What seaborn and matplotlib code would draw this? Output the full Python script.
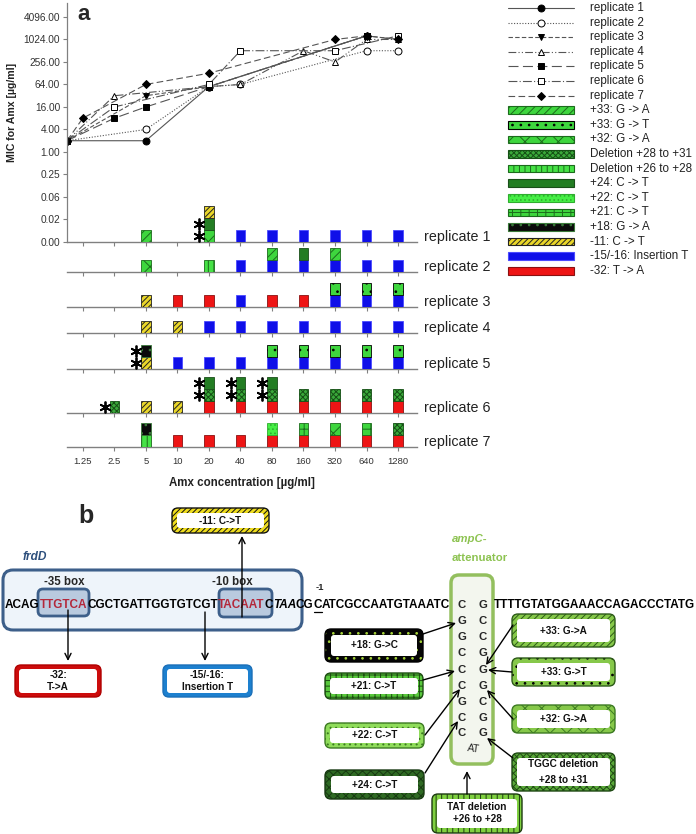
import matplotlib
matplotlib.use("Agg")
import matplotlib.pyplot as plt
from matplotlib.patches import FancyBboxPatch, Rectangle
import seaborn as sns

# ---------------- data ----------------
conc_labels = ["1.25", "2.5", "5", "10", "20", "40", "80", "160", "320", "640", "1280"]
mic_tick_exp = list(range(-8, 13, 2))

# MIC course per replicate: step reached -> MIC value
rep1_at = ["start", "5", "20", "640"]
rep1_mic = [2, 2, 56, 1280]
rep2_at = ["start", "5", "20", "40", "640", "1280"]
rep2_mic = [2, 4, 56, 64, 512, 512]
rep3_at = ["start", "5", "20", "640", "1280"]
rep3_mic = [2, 32, 56, 1280, 1024]
rep4_at = ["start", "2.5", "20", "40", "160", "320", "640", "1280"]
rep4_mic = [2, 32, 56, 64, 512, 256, 1024, 1024]
rep5_at = ["start", "2.5", "5", "20", "640"]
rep5_mic = [2, 8, 16, 56, 1280]
rep6_at = ["start", "2.5", "20", "40", "320", "1280"]
rep6_mic = [2, 16, 64, 512, 512, 1280]
rep7_at = ["start", "1.25", "5", "20", "320", "640", "1280"]
rep7_mic = [2, 8, 64, 128, 1024, 1280, 1024]

# mutations found per concentration step (bottom -> top of the stack)
rep1_bars = ["", "", "33GA", "", "32GA 24CT 11CT", "ins", "ins", "ins", "ins", "ins", "ins"]
rep2_bars = ["", "", "32GA", "", "d2628", "ins", "ins 33GA", "ins 24CT", "ins 33GA", "ins", "ins"]
rep3_bars = ["", "", "11CT", "32TA", "32TA", "ins", "32TA", "32TA", "ins 33GT", "ins 33GT", "ins 33GT"]
rep4_bars = ["", "", "11CT", "11CT", "ins", "ins", "ins", "ins", "ins", "ins", "ins"]
rep5_bars = ["", "", "11CT 18GA", "ins", "ins", "ins", "ins 33GT", "ins 33GT", "ins 33GT", "ins 33GT", "ins 33GT"]
rep6_bars = ["", "d2831", "11CT", "11CT", "32TA d2831 24CT", "32TA d2831 24CT", "32TA d2831 24CT",
             "32TA d2831", "32TA d2831", "32TA d2831", "32TA d2831"]
rep7_bars = ["", "", "d2628 18GA", "32TA", "32TA", "32TA", "32TA 22CT", "32TA 21CT", "32TA 32GA",
             "32TA 21CT", "32TA d2831"]

# (replicate, step index, segment) marked with an asterisk
stars = [(1, 4, 0), (1, 4, 1), (5, 2, 0), (5, 2, 1), (6, 1, 0),
         (6, 4, 1), (6, 4, 2), (6, 5, 1), (6, 5, 2), (6, 6, 1), (6, 6, 2)]

mic_at = [rep1_at, rep2_at, rep3_at, rep4_at, rep5_at, rep6_at, rep7_at]
mic_val = [rep1_mic, rep2_mic, rep3_mic, rep4_mic, rep5_mic, rep6_mic, rep7_mic]
bars = [rep1_bars, rep2_bars, rep3_bars, rep4_bars, rep5_bars, rep6_bars, rep7_bars]

# ---------------- styles ----------------
mut_style = {
    "33GA": ("+33: G -> A", "#3ed63e", "////", "#1c6b1c"),
    "33GT": ("+33: G -> T", "#3ed63e", "..", "#000000"),
    "32GA": ("+32: G -> A", "#3ed63e", "xx", "#1c6b1c"),
    "d2831": ("Deletion +28 to +31", "#3aa83a", "xxxxxx", "#154f15"),
    "d2628": ("Deletion +26 to +28", "#46e246", "|||", "#1c6b1c"),
    "24CT": ("+24: C -> T", "#237d23", "", "#1a4f1a"),
    "22CT": ("+22: C -> T", "#45ef45", "....", "#2fae2f"),
    "21CT": ("+21: C -> T", "#3ed63e", "++", "#1c6b1c"),
    "18GA": ("+18: G -> A", "#0a0a0a", "..", "#3a7a3a"),
    "11CT": ("-11: C -> T", "#e9d62a", "//////", "#222222"),
    "ins": ("-15/-16: Insertion T", "#0f0fe8", "", "#4a4aff"),
    "32TA": ("-32: T -> A", "#ee1515", "", "#8a1111"),
}
legend_order = ["33GA", "33GT", "32GA", "d2831", "d2628", "24CT", "22CT", "21CT", "18GA", "11CT", "ins", "32TA"]

line_style = [
    dict(linestyle="-", marker="o", markerfacecolor="black", markersize=5),
    dict(linestyle=(0, (1, 1.5)), marker="o", markerfacecolor="white", markersize=5),
    dict(linestyle=(0, (4, 2)), marker="v", markerfacecolor="black", markersize=5),
    dict(linestyle=(0, (7, 2, 1, 2, 1, 2)), marker="^", markerfacecolor="white", markersize=5),
    dict(linestyle=(0, (9, 4)), marker="s", markerfacecolor="black", markersize=4.5),
    dict(linestyle=(0, (8, 2, 1, 2)), marker="s", markerfacecolor="white", markersize=4.5),
    dict(linestyle=(0, (6, 3)), marker="D", markerfacecolor="black", markersize=4.5),
]

sns.set_theme(style="white")
plt.rcParams["font.family"] = ["Liberation Sans", "DejaVu Sans"]
plt.rcParams["hatch.linewidth"] = 0.7

W, H = 696, 834
fig = plt.figure(figsize=(W / 100, H / 100), dpi=100)


def px_rect(x0, y0, x1, y1):
    return [x0 / W, 1 - y1 / H, (x1 - x0) / W, (y1 - y0) / H]


XL = (-0.5, 10.6)
pos = {c: i for i, c in enumerate(conc_labels)}
pos["start"] = -0.5
GRAY = "#808080"

# ---------------- panel a: MIC lines ----------------
ax_mic = fig.add_axes(px_rect(67, 3, 417, 242))
ax_mic.patch.set_visible(False)
for i in range(7):
    xs = [pos[a] for a in mic_at[i]]
    sns.lineplot(x=xs, y=mic_val[i], ax=ax_mic, color="#555555", linewidth=0.8,
                 markeredgecolor="black", markeredgewidth=0.7,
                 estimator=None, sort=False, legend=False, **line_style[i])
ax_mic.set_yscale("log", base=2)
ax_mic.set_ylim(2.0 ** -8, 2.0 ** 13.24)
ax_mic.set_xlim(*XL)
ax_mic.set_yticks([2.0 ** e for e in mic_tick_exp])
ax_mic.set_yticklabels([f"{2.0 ** e:.2f}" for e in mic_tick_exp])
ax_mic.yaxis.set_minor_locator(matplotlib.ticker.NullLocator())
ax_mic.set_xticks([])
for s in ["top", "right", "bottom"]:
    ax_mic.spines[s].set_visible(False)
ax_mic.spines["left"].set_color(GRAY)
ax_mic.spines["left"].set_linewidth(0.9)
ax_mic.tick_params(axis="y", direction="out", length=3, width=0.8, color=GRAY,
                   labelsize=7.3, labelcolor="#333333", pad=2, left=True)
ax_mic.set_xlabel("")
ax_mic.set_ylabel("")

# ---------------- panel a: mutation rows ----------------
baselines = [242, 272, 307, 333, 369, 413, 447]
UNIT = 12
for r, base in enumerate(baselines):
    ax = fig.add_axes(px_rect(67, base - 40, 417, base))
    ax.patch.set_visible(False)
    ax.set_xlim(*XL)
    ax.set_ylim(0, 40 / UNIT)
    for idx, cell in enumerate(bars[r]):
        for k, m in enumerate(cell.split()):
            _, fc, hatch, ec = mut_style[m]
            ax.bar(idx, 1, bottom=k, width=0.3, color=fc, hatch=hatch, edgecolor=ec,
                   linewidth=0.6, zorder=3)
    sx = [idx - 0.31 for (rr, idx, seg) in stars if rr == r + 1]
    sy = [seg + 0.5 for (rr, idx, seg) in stars if rr == r + 1]
    if sx:
        ax.plot(sx, sy, linestyle="none", marker=(6, 2, 0), markersize=8.5,
                markeredgewidth=1.3, color="black", zorder=4)
    for s in ["top", "right", "left"]:
        ax.spines[s].set_visible(False)
    ax.spines["bottom"].set_color(GRAY)
    ax.spines["bottom"].set_linewidth(1)
    ax.set_yticks([])
    ax.set_xticks(range(len(conc_labels)))
    ax.tick_params(axis="x", direction="out", length=3, width=0.8, color=GRAY, bottom=True,
                   labelsize=6.8, labelcolor="#333333", pad=4)
    if r == len(baselines) - 1:
        ax.set_xticklabels(conc_labels)
        ax.set_xlabel("Amx concentration [\u00b5g/ml]", fontsize=8.3, fontweight="bold",
                      color="#222222", labelpad=8)
    else:
        ax.set_xticklabels([])
    fig.text(424 / W, 1 - (base - 5) / H, f"replicate {r + 1}", fontsize=10.3,
             va="center", ha="left", color="#222222")

# ---------------- legend ----------------
ax_leg = fig.add_axes(px_rect(500, 0, 696, 290))
ax_leg.set_xlim(500, 696)
ax_leg.set_ylim(290, 0)
ax_leg.axis("off")
row_y = [8 + 14.6 * i for i in range(19)]
for i in range(7):
    y = row_y[i]
    st = dict(line_style[i])
    mk = st.pop("marker")
    mfc = st.pop("markerfacecolor")
    ms = st.pop("markersize")
    ax_leg.plot([508, 574], [y, y], color="#555555", linewidth=0.8, **st)
    ax_leg.plot([541], [y], marker=mk, markerfacecolor=mfc, markeredgecolor="black",
                markersize=ms, markeredgewidth=0.7, linestyle="none")
    ax_leg.text(590, y, f"replicate {i + 1}", fontsize=8.4, va="center", color="#222222")
for j, m in enumerate(legend_order):
    y = row_y[7 + j]
    lab, fc, hatch, ec = mut_style[m]
    ax_leg.add_patch(Rectangle((508, y - 3.8), 66, 7.6, facecolor=fc, hatch=hatch,
                               edgecolor=ec, linewidth=0.8))
    ax_leg.text(590, y, lab, fontsize=8.4, va="center", color="#222222")

# ---------------- panel b (pixel overlay) ----------------
ax_b = fig.add_axes([0, 0, 1, 1])
ax_b.set_xlim(0, W)
ax_b.set_ylim(H, 0)
ax_b.axis("off")
renderer = fig.canvas.get_renderer()

ax_b.text(84, 20, "a", fontsize=16, fontweight="bold", ha="center", va="baseline")
ax_b.text(86, 516, "b", fontsize=18, fontweight="bold", ha="center", va="center")
ax_b.text(12, 112, "MIC for Amx [\u00b5g/ml]", rotation=90, fontsize=7.6, fontweight="bold",
          ha="center", va="center", color="#222222")


def rbox(x0, y0, x1, y1, r, **kw):
    p = FancyBboxPatch((x0, y0), x1 - x0, y1 - y0,
                       boxstyle=f"round,pad=0,rounding_size={r}", **kw)
    ax_b.add_patch(p)
    return p


def mut_box(x0, y0, x1, y1, face, hatch, hcol, lines, edge=None, bw=5, gap=12, fs=7.2):
    rbox(x0, y0, x1, y1, 6, facecolor=face, edgecolor=hcol, hatch=hatch, linewidth=0)
    rbox(x0, y0, x1, y1, 6, facecolor="none", edgecolor=edge or hcol, linewidth=1)
    rbox(x0 + bw, y0 + bw, x1 - bw, y1 - bw, 3, facecolor="white", edgecolor="none")
    cx, cy = (x0 + x1) / 2, (y0 + y1) / 2
    n = len(lines)
    for k, s in enumerate(lines):
        ax_b.text(cx, cy + (k - (n - 1) / 2) * gap, s, fontsize=fs, fontweight="bold",
                  ha="center", va="center", color="#111111")


def arrow(x0, y0, x1, y1):
    ax_b.annotate("", xy=(x1, y1), xytext=(x0, y0),
                  arrowprops=dict(arrowstyle="->", color="black", lw=1.0, mutation_scale=11,
                                  shrinkA=0, shrinkB=0), zorder=6)


def seq_text(x, y, parts, target, fs0=8):
    full = "".join(p[0] for p in parts)
    tmp = ax_b.text(0, 0, full, fontsize=fs0, fontweight="bold")
    w = tmp.get_window_extent(renderer).width
    tmp.remove()
    fs = fs0 * target / w
    spots = []
    for s, color, italic, under in parts:
        t = ax_b.text(x, y, s, fontsize=fs, fontweight="bold", color=color,
                      style="italic" if italic else "normal", ha="left", va="center")
        bw = t.get_window_extent(renderer).width
        if under:
            ax_b.plot([x + 0.5, x + bw - 0.5], [y + 6.5, y + 6.5], color="black", lw=0.9)
        spots.append((x, x + bw))
        x += bw
    return spots


# frdD promoter box
ax_b.text(23, 557, "frdD", fontsize=8.6, fontweight="bold", style="italic", color="#2d4f7c",
          ha="left", va="center")
rbox(3, 570, 302, 630, 10, facecolor="#eef4fa", edgecolor="#3d5f8a", linewidth=2.2)
rbox(38, 589, 89, 616, 5, facecolor="#b9cadf", edgecolor="#3d5f8a", linewidth=2)
rbox(219, 589, 272, 617, 5, facecolor="#b9cadf", edgecolor="#3d5f8a", linewidth=2)
ax_b.text(64, 582, "-35 box", fontsize=8.3, fontweight="bold", ha="center", va="center")
ax_b.text(232, 582, "-10 box", fontsize=8.3, fontweight="bold", ha="center", va="center")

RED = "#b3283b"
left_parts = [("ACAG", "black", False, False), ("TTGTCA", RED, False, False),
              ("CGCTGATTGGTGTCGT", "black", False, False), ("TACAAT", RED, False, False),
              ("C", "black", False, False), ("TAA", "black", True, False),
              ("CG", "black", False, False), ("C", "black", False, True),
              ("ATCGCCAATGTAAATC", "black", False, False)]
spots = seq_text(5, 605, left_parts, 446)
ux = sum(spots[7]) / 2
ax_b.text(ux + 2, 588, "-1", fontsize=6.8, fontweight="bold", ha="center", va="center")
seq_text(494, 605, [("TTTTGTATGGAAACCAGACCCTATG", "black", False, False)], 201)

# ampC attenuator stem loop
GREEN = "#8dc351"
ax_b.text(452, 539, "ampC-", fontsize=8.2, fontweight="bold", style="italic", color=GREEN,
          ha="left", va="center")
ax_b.text(452, 558, "attenuator", fontsize=8.2, fontweight="bold", color=GREEN,
          ha="left", va="center")
rbox(451, 575, 493, 764, 8, facecolor="#f3f6ee", edgecolor="#93bf5e", linewidth=2.5)
stem_left = "CGGCCCGCC"
stem_right = "GCCGGGCGG"
stem_y = [605, 621, 637, 653, 670, 686, 702, 718, 733]
for a, b, y in zip(stem_left, stem_right, stem_y):
    ax_b.text(462, y, a, fontsize=8.2, fontweight="bold", ha="center", va="center")
    ax_b.text(483, y, b, fontsize=8.2, fontweight="bold", ha="center", va="center")
ax_b.text(474, 749, "AT", fontsize=7.5, ha="center", va="center", rotation=-8, color="#222222")

# mutation boxes
mut_box(172, 508, 269, 533, "#efdd1e", "//////", "#111111", ["-11: C->T"])
mut_box(15, 665, 101, 697, "#cc0c0c", "", "#b00000", ["-32:", "T->A"], bw=4)
mut_box(163, 665, 252, 697, "#1d80cf", "", "#1b6fb8", ["-15/-16:", "Insertion T"], bw=4)
mut_box(325, 629, 423, 662, "#050505", "..", "#a6d43a", ["+18: G->C"], edge="#000000", bw=6)
mut_box(325, 673, 423, 699, "#58c83c", "+++", "#1d4d12", ["+21: C->T"], bw=5)
mut_box(325, 723, 424, 748, "#8fdc5a", "...", "#3c7a22", ["+22: C->T"], bw=5)
mut_box(325, 770, 424, 799, "#2f6a24", "xxxx", "#183a12", ["+24: C->T"], bw=6)
mut_box(432, 794, 522, 833, "#7fd040", "|||", "#1c3a10", ["TAT deletion", "+26 to +28"], bw=5)
mut_box(512, 614, 615, 647, "#86c84a", "/////", "#2c5a18", ["+33: G->A"], bw=5)
mut_box(512, 658, 615, 686, "#86c84a", "..", "#000000", ["+33: G->T"], edge="#2c5a18", bw=5)
mut_box(512, 705, 615, 733, "#86c84a", "xx", "#3c7a22", ["+32: G->A"], bw=5)
mut_box(512, 753, 615, 791, "#5aa83a", "xxxxx", "#1f4a14", ["TGGC deletion", "+28 to +31"],
        bw=5, gap=16)

# arrows
arrow(242, 617, 242, 536)
arrow(68, 610, 68, 661)
arrow(205, 612, 205, 661)
arrow(423, 634, 456, 623)
arrow(423, 680, 455, 671)
arrow(425, 735, 460, 689)
arrow(425, 773, 458, 721)
arrow(467, 794, 467, 771)
arrow(513, 625, 486, 665)
arrow(512, 672, 488, 670)
arrow(513, 719, 487, 690)
arrow(513, 758, 487, 738)

fig.savefig("out.png", dpi=100)
